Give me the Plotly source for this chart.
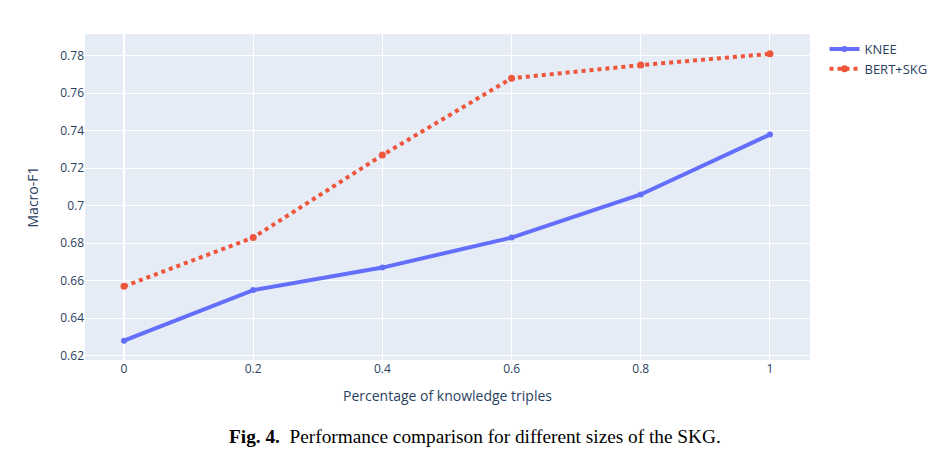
import plotly.graph_objects as go

x_vals = [0, 0.2, 0.4, 0.6, 0.8, 1]
knee = [0.628, 0.655, 0.667, 0.683, 0.706, 0.738]
bert_skg = [0.657, 0.683, 0.727, 0.768, 0.775, 0.781]
series_names = ["KNEE", "BERT+SKG"]

fig = go.Figure()
fig.add_trace(go.Scatter(x=x_vals, y=knee, mode="lines+markers", name=series_names[0],
                         line=dict(color="#636efa", width=4), marker=dict(size=6)))
fig.add_trace(go.Scatter(x=x_vals, y=bert_skg, mode="lines+markers", name=series_names[1],
                         line=dict(color="#EF553B", width=4, dash="dot"), marker=dict(size=7)))

fig.update_layout(
    template="plotly",
    width=941, height=457,
    margin=dict(l=85, r=131, t=34, b=97, autoexpand=False),
    xaxis=dict(title=dict(text="Percentage of knowledge triples"), range=[-0.0604, 1.062],
               tickvals=x_vals, ticktext=["0", "0.2", "0.4", "0.6", "0.8", "1"]),
    yaxis=dict(title=dict(text="Macro-F1", standoff=18), range=[0.6177, 0.7916], dtick=0.02),
    legend=dict(x=1.02, y=1, font=dict(size=13)),
    font=dict(family="Open Sans", size=12, color="#2a3f5f"),
    annotations=[dict(text="<b>Fig. 4.</b>  Performance comparison for different sizes of the SKG.",
                      xref="paper", yref="paper", x=0.538, y=-0.236, xanchor="center", yanchor="middle",
                      showarrow=False, font=dict(family="Liberation Serif", size=19.3, color="#000000"))],
)
fig.write_html("out.html")
